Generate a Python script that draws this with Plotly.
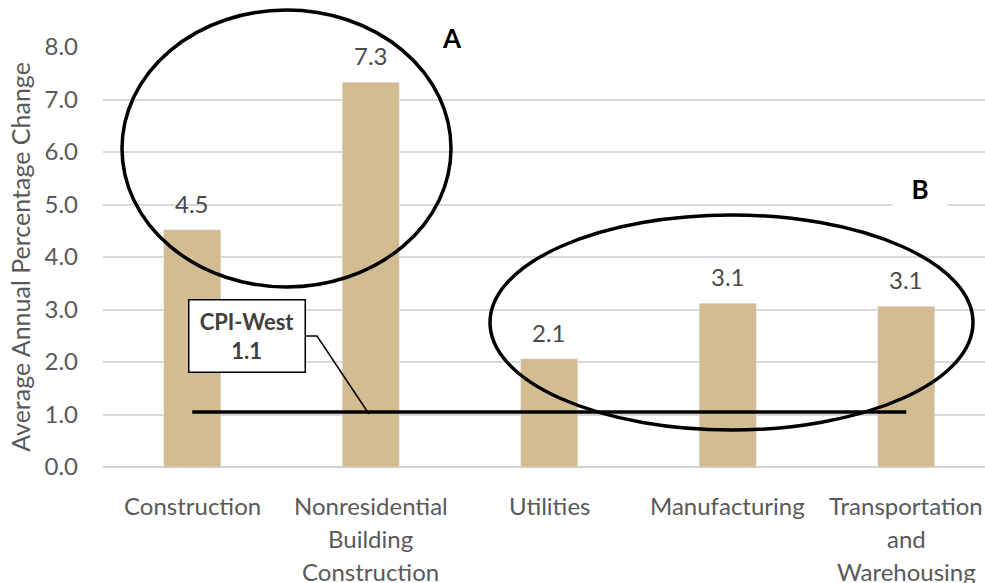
import plotly.graph_objects as go

categories = ["Construction", "Nonresidential<br>Building<br>Construction", "Utilities",
              "Manufacturing", "Transportation<br>and<br>Warehousing"]
values = [4.52, 7.33, 2.06, 3.12, 3.06]
cpi_west = 1.05
y_ticks = [0, 1, 2, 3, 4, 5, 6, 7, 8]

FONT = "Lato, Carlito, Calibri, 'Open Sans', sans-serif"
GRAY = "#595959"
BAR = "#D4BC92"

# layout geometry (pixels)
W, H = 985, 583
L, T, B = 103, 47, 116
PW = W - L
PH = H - T - B
CAT_W = 178.5

def px(x):
    return (x - L) / PW

def py(y):
    return (H - B - y) / PH

fig = go.Figure()
fig.add_trace(go.Bar(x=list(range(len(categories))), y=values, marker_color=BAR,
                     width=0.32, hoverinfo="skip"))
fig.add_trace(go.Scatter(x=[0, len(categories) - 1], y=[cpi_west, cpi_west], mode="lines",
                         line=dict(color="black", width=3.5), hoverinfo="skip"))

ann = []
for i, v in enumerate(values):
    ann.append(dict(x=i, y=v, xref="x", yref="y", text=f"{v:.1f}", showarrow=False,
                    yanchor="bottom", yshift=10, font=dict(family=FONT, size=24, color="#4a4a4a")))
    for j, line in enumerate(categories[i].split("<br>")):
        ann.append(dict(x=i, y=0, xref="x", yref="y", text=line, showarrow=False,
                        yanchor="middle", yshift=-38 - 33 * j,
                        font=dict(family=FONT, size=24, color=GRAY)))

# CPI callout
ann.append(dict(x=px(246.5), y=py(335.5), xref="paper", yref="paper",
                xanchor="center", yanchor="middle",
                text=f"<b>CPI-West</b><br><b>{cpi_west:.1f}</b>", showarrow=False,
                bgcolor="white", bordercolor="black", borderwidth=1.5,
                width=113, height=69, font=dict(family=FONT, size=22, color="#404040")))
# A and B labels
ann.append(dict(x=px(452), y=py(38), xref="paper", yref="paper", text="<b>A</b>",
                xanchor="center", yanchor="middle",
                showarrow=False, bgcolor="white", width=60,
                font=dict(family=FONT, size=26, color="black")))
ann.append(dict(x=px(920), y=py(189), xref="paper", yref="paper", text="<b>B</b>",
                xanchor="center", yanchor="middle",
                showarrow=False, bgcolor="white", width=52,
                font=dict(family=FONT, size=26, color="black")))

shapes = [
    dict(type="circle", xref="paper", yref="paper", x0=px(122), x1=px(451), y0=py(287), y1=py(10),
         line=dict(color="black", width=3.5)),
    dict(type="circle", xref="paper", yref="paper", x0=px(490), x1=px(973), y0=py(430), y1=py(215),
         line=dict(color="black", width=3.5)),
    dict(type="path", xref="paper", yref="paper",
         path=f"M {px(305)} {py(336)} L {px(317)} {py(336)} L {px(369)} {py(414)}",
         line=dict(color="black", width=1.5)),
]

fig.update_layout(
    width=W, height=H, margin=dict(l=L, r=0, t=T, b=B),
    paper_bgcolor="white", plot_bgcolor="white", showlegend=False,
    xaxis=dict(range=[-0.5, -0.5 + PW / CAT_W], showticklabels=False, showgrid=False,
               zeroline=False, showline=False, fixedrange=True),
    yaxis=dict(range=[0, 8], tickvals=y_ticks, ticktext=[f"{t:.1f}" for t in y_ticks],
               showgrid=True, gridcolor="#D9D9D9", gridwidth=1.5, zeroline=True,
               zerolinecolor="#D0D0D0", zerolinewidth=2, ticks="", ticklabelstandoff=24,
               tickfont=dict(family=FONT, size=24, color=GRAY),
               title=dict(text="Average Annual Percentage Change", standoff=6,
                          font=dict(family=FONT, size=25, color=GRAY))),
    annotations=ann, shapes=shapes,
)
fig.write_html("out.html")
